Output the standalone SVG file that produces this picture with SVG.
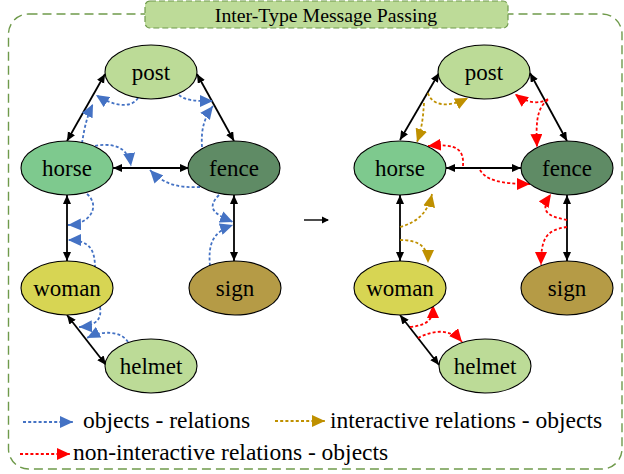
<svg xmlns="http://www.w3.org/2000/svg" width="624" height="474" viewBox="0 0 624 474">
  <style>
    .frame { fill: none; stroke: #6f9a4b; stroke-width: 1.4; stroke-dasharray: 9 5; }
    .title-box { fill: #bddb98; stroke: #6f9a4b; stroke-width: 1.2; stroke-dasharray: 6 3; }
    .node { stroke: #000; stroke-width: 1.1; }
    text { font-family: "Liberation Serif", "DejaVu Serif", serif; fill: #000; }
    .label { font-size: 23px; text-anchor: middle; }
    .title { font-size: 19.8px; text-anchor: middle; }
    .legend { font-size: 23.5px; }
    .edge { fill: none; stroke: #000; stroke-width: 1.8; marker-start: url(#blk); marker-end: url(#blk); }
    .msg { fill: none; stroke-width: 1.8; stroke-dasharray: 3 2.2; }
    .blue { stroke: #4472c4; marker-end: url(#ahBlue); }
    .gold { stroke: #bf9000; marker-end: url(#ahGold); }
    .red { stroke: #ff0000; marker-end: url(#ahRed); }
  </style>
  <defs>
    <marker id="blk" markerUnits="userSpaceOnUse" markerWidth="10" markerHeight="9" refX="9" refY="4" orient="auto-start-reverse">
      <path d="M0,0 L9,4 L0,8 z" fill="#000"/>
    </marker>
    <marker id="ahBlue" markerUnits="userSpaceOnUse" markerWidth="14" markerHeight="12" refX="13" refY="6" orient="auto">
      <path d="M0,0 L13,6 L0,12 z" fill="#4472c4"/>
    </marker>
    <marker id="ahGold" markerUnits="userSpaceOnUse" markerWidth="14" markerHeight="12" refX="13" refY="6" orient="auto">
      <path d="M0,0 L13,6 L0,12 z" fill="#bf9000"/>
    </marker>
    <marker id="ahRed" markerUnits="userSpaceOnUse" markerWidth="14" markerHeight="12" refX="13" refY="6" orient="auto">
      <path d="M0,0 L13,6 L0,12 z" fill="#ff0000"/>
    </marker>
  </defs>

  <!-- outer dashed frame and title tab -->
  <rect class="frame" x="8.5" y="14" width="613.5" height="455" rx="20"/>
  <g id="title">
    <rect class="title-box" x="145" y="1" width="363" height="27" rx="5"/>
    <text class="title" x="326" y="21.5" font-family="Liberation Serif, DejaVu Serif, serif">Inter-Type Message Passing</text>
  </g>

  <!-- structural edges (both graphs) -->
  <g id="edges">
    <path class="edge" d="M105,74 L67,141"/>
    <path class="edge" d="M197,74 L234,141"/>
    <path class="edge" d="M113,168 L189,168"/>
    <path class="edge" d="M67,195 L67,261"/>
    <path class="edge" d="M234,195 L234,261"/>
    <path class="edge" d="M67,315 L106,365"/>

    <path class="edge" d="M439,73 L400,140"/>
    <path class="edge" d="M530,73 L567,141"/>
    <path class="edge" d="M446,168 L521,168"/>
    <path class="edge" d="M400,195 L400,261"/>
    <path class="edge" d="M567,195 L567,261"/>
    <path class="edge" d="M400,315 L439,365"/>
  </g>

  <!-- message-passing curves -->
  <g id="messages">
    <!-- objects -> relations -->
    <path class="msg blue" d="M138,98 C131,109 113,106 96,95"/>
    <path class="msg blue" d="M82,143 C84,131 86,118 93,104"/>
    <path class="msg blue" d="M179,95 C186,101 196,101 213,101"/>
    <path class="msg blue" d="M202,147 C201,132 203,119 213,106"/>
    <path class="msg blue" d="M90,147 C110,142 128,145 131,166"/>
    <path class="msg blue" d="M200,187 C180,188 164,185 150,170"/>
    <path class="msg blue" d="M87,194 C100,205 92,224 68,225"/>
    <path class="msg blue" d="M95,268 C95,250 90,240 68,240"/>
    <path class="msg blue" d="M219,195 C206,208 214,214 233,222"/>
    <path class="msg blue" d="M210,266 C208,245 212,232 233,225"/>
    <path class="msg blue" d="M100,307 C102,318 97,326 79,327"/>
    <path class="msg blue" d="M128,342 C121,331 103,330 87,338"/>

    <!-- interactive relations -> objects -->
    <path class="msg gold" d="M428,93 C432,106 448,108 468,98"/>
    <path class="msg gold" d="M424,103 C423,118 422,128 417,142"/>
    <path class="msg gold" d="M400,227 C418,222 428,212 432,194"/>
    <path class="msg gold" d="M400,240 C418,240 428,246 428,263"/>

    <!-- non-interactive relations -> objects -->
    <path class="msg red" d="M548,99 C540,104 528,104 515,94"/>
    <path class="msg red" d="M548,100 C536,108 536,125 537,147"/>
    <path class="msg red" d="M463,166 C464,150 458,143 428,146"/>
    <path class="msg red" d="M480,170 C486,180 500,184 530,184"/>
    <path class="msg red" d="M567,220 C545,216 540,210 551,194"/>
    <path class="msg red" d="M567,227 C545,230 541,240 541,265"/>
    <path class="msg red" d="M410,327 C430,325 433,318 433,305"/>
    <path class="msg red" d="M418,338 C433,330 450,328 462,342"/>
  </g>

  <!-- left graph nodes -->
  <g id="post-a"><ellipse class="node" cx="151" cy="72" rx="46" ry="27" fill="#bcdb97"/><text class="label" x="151" y="80">post</text></g>
  <g id="horse-a"><ellipse class="node" cx="67" cy="168" rx="46" ry="27" fill="#7ec98e"/><text class="label" x="67" y="176">horse</text></g>
  <g id="fence-a"><ellipse class="node" cx="234" cy="168" rx="46" ry="27" fill="#5f8b65"/><text class="label" x="234" y="176">fence</text></g>
  <g id="woman-a"><ellipse class="node" cx="67" cy="288" rx="46" ry="27" fill="#d7d553"/><text class="label" x="67" y="296">woman</text></g>
  <g id="sign-a"><ellipse class="node" cx="235" cy="288" rx="46" ry="27" fill="#b59b46"/><text class="label" x="235" y="296">sign</text></g>
  <g id="helmet-a"><ellipse class="node" cx="151" cy="366" rx="46" ry="27" fill="#bcdb97"/><text class="label" x="151" y="374">helmet</text></g>

  <!-- right graph nodes -->
  <g id="post-b"><ellipse class="node" cx="484" cy="72" rx="46" ry="27" fill="#bcdb97"/><text class="label" x="484" y="80">post</text></g>
  <g id="horse-b"><ellipse class="node" cx="400" cy="168" rx="46" ry="27" fill="#7ec98e"/><text class="label" x="400" y="176">horse</text></g>
  <g id="fence-b"><ellipse class="node" cx="567" cy="168" rx="46" ry="27" fill="#5f8b65"/><text class="label" x="567" y="176">fence</text></g>
  <g id="woman-b"><ellipse class="node" cx="400" cy="288" rx="46" ry="27" fill="#d7d553"/><text class="label" x="400" y="296">woman</text></g>
  <g id="sign-b"><ellipse class="node" cx="567" cy="288" rx="46" ry="27" fill="#b59b46"/><text class="label" x="567" y="296">sign</text></g>
  <g id="helmet-b"><ellipse class="node" cx="485" cy="366" rx="46" ry="27" fill="#bcdb97"/><text class="label" x="485" y="374">helmet</text></g>

  <!-- transition arrow between the two graphs -->
  <path d="M304,220 L328,220" stroke="#000" stroke-width="1.4" fill="none"/>
  <path d="M322,216.5 L329,220 L322,223.5 z" fill="#000"/>

  <!-- legend -->
  <g id="legend">
    <path class="msg blue" d="M23,422 L73,422"/>
    <text class="legend" x="83" y="428">objects - relations</text>
    <path class="msg gold" d="M275,421 L325,421"/>
    <text class="legend" x="330" y="428">interactive relations - objects</text>
    <path class="msg red" d="M20,454 L70,454"/>
    <text class="legend" x="73" y="460">non-interactive relations - objects</text>
  </g>
</svg>
